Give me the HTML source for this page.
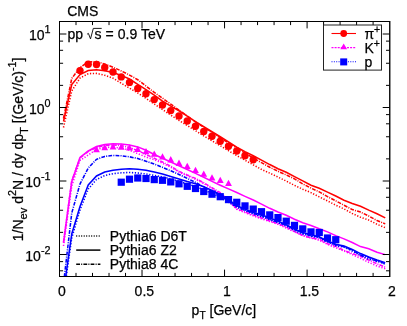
<!DOCTYPE html>
<html><head><meta charset="utf-8"><title>CMS pp 0.9 TeV spectra</title>
<style>
html,body{margin:0;padding:0;background:#fff;}
svg{display:block;}
text{font-family:"Liberation Sans",sans-serif;font-size:14px;fill:#000;stroke:#000;stroke-width:0.25px;}
</style></head><body>
<svg width="407" height="326" viewBox="0 0 407 326">
<defs><filter id="nf" x="0" y="0" width="407" height="326" filterUnits="userSpaceOnUse" color-interpolation-filters="sRGB"><feOffset dx="0" dy="0"/></filter><clipPath id="fr"><rect x="59.50" y="21.50" width="330.10" height="255.00"/></clipPath></defs>
<rect width="407" height="326" fill="#fff"/>
<g clip-path="url(#fr)">
<polyline points="63.50,127.50 71.75,91.00 80.00,78.01 88.25,73.71 96.50,73.40 104.75,75.26 113.00,78.15 121.25,83.24 129.50,88.14 137.75,92.97 146.00,98.36 154.25,104.02 162.50,109.55 170.75,115.09 179.00,120.46 187.25,125.53 195.50,130.70 203.75,135.88 212.00,140.82 220.25,145.67 228.50,150.71 236.75,155.62 245.00,160.19 253.25,164.87 261.50,169.42 269.75,173.13 278.00,177.06 286.25,181.10 294.50,185.38 302.75,189.25 311.00,192.61 319.25,196.89 327.50,200.90 335.75,205.13 344.00,208.88 352.25,213.51 360.50,217.21 368.75,220.09 377.00,224.25 385.25,227.69" fill="none" stroke="#ff0000" stroke-width="1.55" stroke-dasharray="1.25 1.65"/>
<polyline points="63.50,121.50 71.75,84.50 80.00,74.58 88.25,70.47 96.50,69.70 104.75,70.84 113.00,72.60 121.25,75.40 129.50,79.00 137.75,84.33 146.00,89.70 154.25,95.17 162.50,101.13 170.75,106.09 179.00,110.78 187.25,116.10 195.50,121.62 203.75,126.71 212.00,131.72 220.25,136.77 228.50,141.93 236.75,147.27 245.00,151.63 253.25,155.73 261.50,160.15 269.75,164.56 278.00,168.73 286.25,172.20 294.50,176.60 302.75,180.89 311.00,185.25 319.25,188.22 327.50,192.12 335.75,196.05 344.00,200.22 352.25,203.45 360.50,206.31 368.75,210.16 377.00,213.76 385.25,217.88" fill="none" stroke="#ff0000" stroke-width="1.55"/>
<polyline points="63.50,118.50 71.75,78.50 80.00,67.38 88.25,61.97 96.50,61.64 104.75,64.09 113.00,67.19 121.25,70.95 129.50,75.06 137.75,79.73 146.00,86.03 154.25,92.40 162.50,98.13 170.75,104.13 179.00,110.18 187.25,116.08 195.50,121.86 203.75,127.35 212.00,132.59 220.25,137.77 228.50,142.85 236.75,147.99 245.00,153.13 253.25,157.90 261.50,162.70 269.75,167.25 278.00,171.24 286.25,174.98 294.50,178.84 302.75,183.89 311.00,188.14 319.25,191.84 327.50,196.61 335.75,200.83 344.00,205.27 352.25,209.54 360.50,212.07 368.75,216.04 377.00,220.59 385.25,223.89" fill="none" stroke="#ff0000" stroke-width="1.55" stroke-dasharray="3.8 1.2 1 1.2"/>
<polyline points="63.50,246.00 71.75,186.00 80.00,160.50 88.25,155.00 96.50,149.50 104.75,147.50 113.00,147.20 121.25,148.00 129.50,150.20 137.75,153.60 146.00,157.00 154.25,159.73 162.50,163.14 170.75,167.17 179.00,172.08 187.25,175.78 195.50,179.19 203.75,183.54 212.00,188.53 220.25,193.58 228.50,201.32 236.75,209.27 245.00,212.64 253.25,215.89 261.50,218.80 269.75,221.47 278.00,224.21 286.25,228.02 294.50,231.84 302.75,235.64 311.00,237.94 319.25,240.28 327.50,244.36 335.75,247.75 344.00,250.93 352.25,254.60 360.50,258.31 368.75,262.31 377.00,265.99 385.25,268.69" fill="none" stroke="#ff00ff" stroke-width="1.55" stroke-dasharray="1.25 1.65"/>
<polyline points="63.50,243.00 71.75,181.50 80.00,157.50 88.25,151.00 96.50,146.50 104.75,144.40 113.00,143.80 121.25,144.00 129.50,145.10 137.75,146.90 146.00,150.20 154.25,154.48 162.50,158.29 170.75,161.97 179.00,165.72 187.25,169.51 195.50,173.34 203.75,177.31 212.00,181.35 220.25,185.20 228.50,188.91 236.75,192.54 245.00,196.33 253.25,200.00 261.50,204.10 269.75,208.33 278.00,212.06 286.25,215.26 294.50,219.29 302.75,222.78 311.00,225.49 319.25,228.83 327.50,231.85 335.75,235.65 344.00,238.85 352.25,242.57 360.50,246.61 368.75,248.74 377.00,252.18 385.25,254.62" fill="none" stroke="#ff00ff" stroke-width="1.55"/>
<polyline points="63.50,242.00 71.75,181.00 80.00,158.00 88.25,151.50 96.50,147.50 104.75,145.50 113.00,145.00 121.25,145.50 129.50,147.50 137.75,150.50 146.00,154.50 154.25,158.29 162.50,162.06 170.75,166.20 179.00,171.27 187.25,174.99 195.50,178.39 203.75,182.74 212.00,187.73 220.25,192.72 228.50,200.48 236.75,208.49 245.00,212.02 253.25,215.01 261.50,218.05 269.75,220.92 278.00,223.71 286.25,227.01 294.50,231.60 302.75,235.51 311.00,237.81 319.25,239.13 327.50,243.70 335.75,246.35 344.00,250.51 352.25,253.50 360.50,256.27 368.75,260.00 377.00,263.76 385.25,267.19" fill="none" stroke="#ff00ff" stroke-width="1.55" stroke-dasharray="3.8 1.2 1 1.2"/>
<polyline points="63.50,296.00 71.75,238.00 80.00,210.00 88.25,189.00 96.50,179.50 104.75,175.50 113.00,173.70 121.25,172.80 129.50,172.50 137.75,173.00 146.00,174.00 154.25,175.40 162.50,176.96 170.75,178.82 179.00,181.32 187.25,183.95 195.50,186.56 203.75,189.73 212.00,193.50 220.25,197.46 228.50,202.26 236.75,207.20 245.00,210.65 253.25,214.08 261.50,216.58 269.75,219.66 278.00,222.82 286.25,225.99 294.50,230.59 302.75,234.14 311.00,236.28 319.25,237.71 327.50,241.86 335.75,245.85 344.00,247.05 352.25,251.02 360.50,255.07 368.75,259.33 377.00,260.81 385.25,264.13" fill="none" stroke="#0000ff" stroke-width="1.55" stroke-dasharray="1.25 1.65"/>
<polyline points="63.50,292.00 71.75,234.00 80.00,206.50 88.25,185.00 96.50,176.00 104.75,172.00 113.00,170.20 121.25,169.20 129.50,168.80 137.75,169.30 146.00,170.30 154.25,172.00 162.50,174.12 170.75,176.46 179.00,179.01 187.25,181.46 195.50,183.69 203.75,186.67 212.00,190.49 220.25,194.41 228.50,199.64 236.75,205.71 245.00,209.03 253.25,212.59 261.50,214.82 269.75,218.07 278.00,220.98 286.25,224.84 294.50,228.93 302.75,232.50 311.00,234.76 319.25,237.06 327.50,241.08 335.75,244.14 344.00,246.04 352.25,249.42 360.50,253.57 368.75,257.04 377.00,259.99 385.25,262.63" fill="none" stroke="#0000ff" stroke-width="1.55"/>
<polyline points="63.50,284.00 71.75,213.00 80.00,184.00 88.25,168.00 96.50,159.30 104.75,156.40 113.00,155.50 121.25,155.80 129.50,156.80 137.75,158.50 146.00,161.20 154.25,164.13 162.50,167.32 170.75,170.74 179.00,174.45 187.25,178.35 195.50,182.39 203.75,186.81 212.00,191.49 220.25,195.81 228.50,200.99 236.75,206.51 245.00,210.04 253.25,213.28 261.50,215.65 269.75,219.14 278.00,222.04 286.25,225.05 294.50,229.48 302.75,232.97 311.00,235.94 319.25,236.87 327.50,241.41 335.75,244.83 344.00,246.87 352.25,250.23 360.50,255.32 368.75,257.37 377.00,261.41 385.25,263.43" fill="none" stroke="#0000ff" stroke-width="1.55" stroke-dasharray="3.8 1.2 1 1.2"/>
<circle cx="80.00" cy="70.60" r="3.7" fill="#ff0000"/>
<circle cx="88.25" cy="64.30" r="3.7" fill="#ff0000"/>
<circle cx="96.50" cy="64.50" r="3.7" fill="#ff0000"/>
<circle cx="104.75" cy="67.50" r="3.7" fill="#ff0000"/>
<circle cx="113.00" cy="72.00" r="3.7" fill="#ff0000"/>
<circle cx="121.25" cy="76.90" r="3.7" fill="#ff0000"/>
<circle cx="129.50" cy="82.40" r="3.7" fill="#ff0000"/>
<circle cx="137.75" cy="88.40" r="3.7" fill="#ff0000"/>
<circle cx="146.00" cy="93.80" r="3.7" fill="#ff0000"/>
<circle cx="154.25" cy="99.60" r="3.7" fill="#ff0000"/>
<circle cx="162.50" cy="105.00" r="3.7" fill="#ff0000"/>
<circle cx="170.75" cy="110.60" r="3.7" fill="#ff0000"/>
<circle cx="179.00" cy="116.00" r="3.7" fill="#ff0000"/>
<circle cx="187.25" cy="121.00" r="3.7" fill="#ff0000"/>
<circle cx="195.50" cy="126.20" r="3.7" fill="#ff0000"/>
<circle cx="203.75" cy="131.40" r="3.7" fill="#ff0000"/>
<circle cx="212.00" cy="136.30" r="3.7" fill="#ff0000"/>
<circle cx="220.25" cy="141.20" r="3.7" fill="#ff0000"/>
<circle cx="228.50" cy="146.20" r="3.7" fill="#ff0000"/>
<circle cx="236.75" cy="151.00" r="3.7" fill="#ff0000"/>
<circle cx="245.00" cy="155.80" r="3.7" fill="#ff0000"/>
<circle cx="253.25" cy="159.80" r="3.7" fill="#ff0000"/>
<path d="M93.10 152.20L99.90 152.20L96.50 145.90Z" fill="#ff00ff"/>
<path d="M101.35 150.20L108.15 150.20L104.75 143.90Z" fill="#ff00ff"/>
<path d="M109.60 149.50L116.40 149.50L113.00 143.20Z" fill="#ff00ff"/>
<path d="M117.85 149.70L124.65 149.70L121.25 143.40Z" fill="#ff00ff"/>
<path d="M126.10 150.50L132.90 150.50L129.50 144.20Z" fill="#ff00ff"/>
<path d="M134.35 152.00L141.15 152.00L137.75 145.70Z" fill="#ff00ff"/>
<path d="M142.60 154.20L149.40 154.20L146.00 147.90Z" fill="#ff00ff"/>
<path d="M150.85 156.80L157.65 156.80L154.25 150.50Z" fill="#ff00ff"/>
<path d="M159.10 159.60L165.90 159.60L162.50 153.30Z" fill="#ff00ff"/>
<path d="M167.35 162.40L174.15 162.40L170.75 156.10Z" fill="#ff00ff"/>
<path d="M175.60 165.90L182.40 165.90L179.00 159.60Z" fill="#ff00ff"/>
<path d="M183.85 169.00L190.65 169.00L187.25 162.70Z" fill="#ff00ff"/>
<path d="M192.10 173.10L198.90 173.10L195.50 166.80Z" fill="#ff00ff"/>
<path d="M200.35 176.70L207.15 176.70L203.75 170.40Z" fill="#ff00ff"/>
<path d="M208.60 180.60L215.40 180.60L212.00 174.30Z" fill="#ff00ff"/>
<path d="M216.85 183.00L223.65 183.00L220.25 176.70Z" fill="#ff00ff"/>
<path d="M225.10 186.00L231.90 186.00L228.50 179.70Z" fill="#ff00ff"/>
<rect x="117.65" y="178.60" width="7.2" height="7.2" fill="#0000ff"/>
<rect x="125.90" y="175.60" width="7.2" height="7.2" fill="#0000ff"/>
<rect x="134.15" y="174.40" width="7.2" height="7.2" fill="#0000ff"/>
<rect x="142.40" y="174.90" width="7.2" height="7.2" fill="#0000ff"/>
<rect x="150.65" y="176.00" width="7.2" height="7.2" fill="#0000ff"/>
<rect x="158.90" y="176.70" width="7.2" height="7.2" fill="#0000ff"/>
<rect x="167.15" y="178.30" width="7.2" height="7.2" fill="#0000ff"/>
<rect x="175.40" y="180.20" width="7.2" height="7.2" fill="#0000ff"/>
<rect x="183.65" y="182.70" width="7.2" height="7.2" fill="#0000ff"/>
<rect x="191.90" y="184.90" width="7.2" height="7.2" fill="#0000ff"/>
<rect x="200.15" y="187.90" width="7.2" height="7.2" fill="#0000ff"/>
<rect x="208.40" y="190.60" width="7.2" height="7.2" fill="#0000ff"/>
<rect x="216.65" y="193.10" width="7.2" height="7.2" fill="#0000ff"/>
<rect x="224.90" y="196.00" width="7.2" height="7.2" fill="#0000ff"/>
<rect x="233.15" y="198.70" width="7.2" height="7.2" fill="#0000ff"/>
<rect x="241.40" y="202.30" width="7.2" height="7.2" fill="#0000ff"/>
<rect x="249.65" y="205.50" width="7.2" height="7.2" fill="#0000ff"/>
<rect x="257.90" y="208.10" width="7.2" height="7.2" fill="#0000ff"/>
<rect x="266.15" y="211.30" width="7.2" height="7.2" fill="#0000ff"/>
<rect x="274.40" y="214.00" width="7.2" height="7.2" fill="#0000ff"/>
<rect x="282.65" y="217.60" width="7.2" height="7.2" fill="#0000ff"/>
<rect x="290.90" y="221.80" width="7.2" height="7.2" fill="#0000ff"/>
<rect x="299.15" y="225.30" width="7.2" height="7.2" fill="#0000ff"/>
<rect x="307.40" y="228.30" width="7.2" height="7.2" fill="#0000ff"/>
<rect x="315.65" y="228.90" width="7.2" height="7.2" fill="#0000ff"/>
<rect x="323.90" y="234.40" width="7.2" height="7.2" fill="#0000ff"/>
<rect x="332.15" y="236.10" width="7.2" height="7.2" fill="#0000ff"/>
</g>
<rect x="59.50" y="21.50" width="330.10" height="255.00" fill="none" stroke="#000" stroke-width="1"/>
<line x1="390.25" x2="390.25" y1="21.00" y2="277.00" stroke="#000" stroke-width="0.5"/>
<path d="M76.00 276.50v-3.60M76.00 21.50v3.60M92.51 276.50v-3.60M92.51 21.50v3.60M109.02 276.50v-3.60M109.02 21.50v3.60M125.52 276.50v-3.60M125.52 21.50v3.60M142.03 276.50v-6.90M142.03 21.50v6.90M158.53 276.50v-3.60M158.53 21.50v3.60M175.04 276.50v-3.60M175.04 21.50v3.60M191.54 276.50v-3.60M191.54 21.50v3.60M208.05 276.50v-3.60M208.05 21.50v3.60M224.55 276.50v-6.90M224.55 21.50v6.90M241.06 276.50v-3.60M241.06 21.50v3.60M257.56 276.50v-3.60M257.56 21.50v3.60M274.07 276.50v-3.60M274.07 21.50v3.60M290.57 276.50v-3.60M290.57 21.50v3.60M307.08 276.50v-6.90M307.08 21.50v6.90M323.58 276.50v-3.60M323.58 21.50v3.60M340.09 276.50v-3.60M340.09 21.50v3.60M356.59 276.50v-3.60M356.59 21.50v3.60M373.10 276.50v-3.60M373.10 21.50v3.60M59.50 270.81h3.60M389.60 270.81h-3.60M59.50 261.62h3.60M389.60 261.62h-3.60M59.50 254.50h6.90M389.60 254.50h-6.90M59.50 232.37h3.60M389.60 232.37h-3.60M59.50 210.25h3.60M389.60 210.25h-3.60M59.50 197.31h3.60M389.60 197.31h-3.60M59.50 188.12h3.60M389.60 188.12h-3.60M59.50 181.00h6.90M389.60 181.00h-6.90M59.50 158.87h3.60M389.60 158.87h-3.60M59.50 136.75h3.60M389.60 136.75h-3.60M59.50 123.81h3.60M389.60 123.81h-3.60M59.50 114.62h3.60M389.60 114.62h-3.60M59.50 107.50h6.90M389.60 107.50h-6.90M59.50 85.37h3.60M389.60 85.37h-3.60M59.50 63.25h3.60M389.60 63.25h-3.60M59.50 50.31h3.60M389.60 50.31h-3.60M59.50 41.12h3.60M389.60 41.12h-3.60M59.50 34.00h6.90M389.60 34.00h-6.90" stroke="#000" stroke-width="1" fill="none"/>
<g filter="url(#nf)"><text x="61.80" y="295.5" text-anchor="middle">0</text>
<text x="144.33" y="295.5" text-anchor="middle">0.5</text>
<text x="226.85" y="295.5" text-anchor="middle">1</text>
<text x="309.38" y="295.5" text-anchor="middle">1.5</text>
<text x="391.90" y="295.5" text-anchor="middle">2</text>
<text x="50.5" y="40.20" text-anchor="end">10<tspan font-size="10.8" dy="-7.2">1</tspan></text>
<text x="50.5" y="113.70" text-anchor="end">10<tspan font-size="10.8" dy="-7.2">0</tspan></text>
<text x="50.5" y="187.20" text-anchor="end">10<tspan font-size="10.8" dy="-7.2">-1</tspan></text>
<text x="50.5" y="260.70" text-anchor="end">10<tspan font-size="10.8" dy="-7.2">-2</tspan></text>
<text x="191.6" y="315.1">p<tspan font-size="10.2" dy="3.9">T</tspan><tspan dy="-3.9"> [GeV/c]</tspan></text>
<text transform="translate(23 241.3) rotate(-90)" font-size="14.15">1/N<tspan font-size="11.2" dy="4.3">ev</tspan><tspan dy="-4.3"> d</tspan><tspan font-size="10.8" dy="-7.3">2</tspan><tspan dy="7.3">N / dy dp</tspan><tspan font-size="11.3" dy="4.5">T</tspan><tspan dy="-4.5"> [(GeV/c)</tspan><tspan font-size="10.8" dy="-7.3">-1</tspan><tspan dy="7.3">]</tspan></text>
<text x="67.2" y="15.6">CMS</text>
<text x="67.5" y="39">pp</text>
<text x="94.5" y="39" letter-spacing="0.05">s = 0.9 TeV</text>
<path d="M87.1 34.2l1.3 -0.8l2.1 5.5l2.8 -10.5h8.4" fill="none" stroke="#000" stroke-width="0.9"/>
<line x1="76.2" x2="100.4" y1="236.1" y2="236.1" stroke="#000" stroke-width="1.5" stroke-dasharray="1 1.5"/>
<line x1="76.2" x2="100.4" y1="250.1" y2="250.1" stroke="#000" stroke-width="1.5"/>
<line x1="76.2" x2="100.4" y1="264.2" y2="264.2" stroke="#000" stroke-width="1.5" stroke-dasharray="3.8 1.2 1 1.2"/>
<text x="109.8" y="241.1">Pythia6 D6T</text>
<text x="109.8" y="254.8">Pythia6 Z2</text>
<text x="109.8" y="268.5">Pythia8 4C</text>
<rect x="323.5" y="25" width="58" height="45.1" fill="#fff" stroke="#222" stroke-width="1"/>
<line x1="331.5" x2="356" y1="33.5" y2="33.5" stroke="#ff0000" stroke-width="1.1"/>
<line x1="331.5" x2="356" y1="47.6" y2="47.6" stroke="#ff00ff" stroke-width="1.1" stroke-dasharray="2 1.1"/>
<line x1="331.5" x2="356" y1="61.8" y2="61.8" stroke="#0000ff" stroke-width="1.1" stroke-dasharray="1 1.35"/>
<circle cx="343.7" cy="33.5" r="3.4" fill="#ff0000"/>
<path d="M340.30 49.30L347.10 49.30L343.70 43.50Z" fill="#ff00ff"/>
<rect x="340.20" y="58.40" width="7" height="7" fill="#0000ff"/>
<text x="364.4" y="39" font-size="14.5">π<tspan font-size="10.5" dy="-6.5">+</tspan></text>
<text x="364.4" y="53.2" font-size="14.5">K<tspan font-size="10.5" dy="-6.5">+</tspan></text>
<text x="364.4" y="67" font-size="14.5">p</text></g>
</svg>
</body></html>
